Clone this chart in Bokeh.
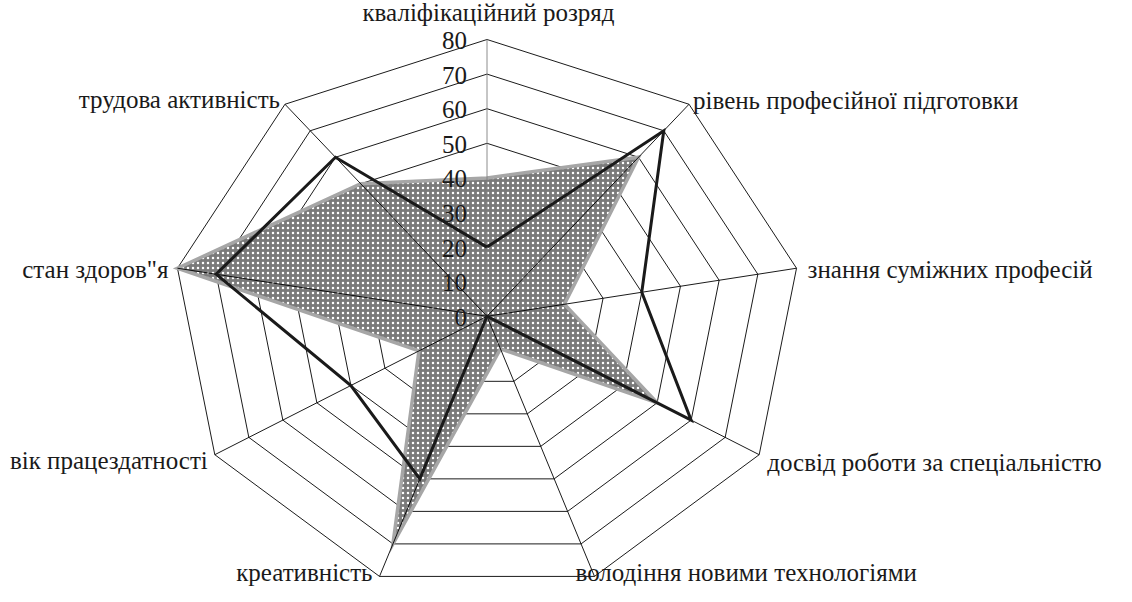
import numpy as np
from bokeh.plotting import figure
from bokeh.models import Range1d, ColumnDataSource
from bokeh.core.properties import value
from bokeh.embed import file_html
from bokeh.resources import INLINE

categories = [
    "кваліфікаційний розряд",
    "рівень професійної підготовки",
    "знання суміжних професій",
    "досвід роботи за спеціальністю",
    "володіння новими технологіями",
    "креативність",
    "вік працездатності",
    "стан здоров\"я",
    "трудова активність",
]
series_dark = [20, 70, 40, 60, 0, 50, 40, 70, 60]
series_grey = [40, 60, 20, 50, 10, 70, 20, 80, 50]
tick_values = [0, 10, 20, 30, 40, 50, 60, 70, 80]
tick_labels = ["0", "10", "20", "30", "40", "50", "60", "70", "80"]

# layout
W, H = 1116, 586
cx_px, cy_px = 486.5, 315.8       # centre in figure pixels (from top-left)
rx_px, ry_px = 314.3, 276.8       # radius of value 80 in pixels
vmax = 80.0
sx = rx_px / vmax
sy = ry_px / vmax

FS = "25px"

n = len(categories)
theta = np.deg2rad(90 - 40 * np.arange(n))
cs, sn = np.cos(theta), np.sin(theta)

p = figure(width=W, height=H, output_backend="svg", toolbar_location=None,
           x_range=Range1d(-cx_px / sx, (W - cx_px) / sx),
           y_range=Range1d(-(H - cy_px) / sy, cy_px / sy),
           min_border=0)
p.axis.visible = False
p.grid.visible = False
p.outline_line_color = None

# rings (drawn first)
ring_xs = [list(t * cs) + [t * cs[0]] for t in tick_values[1:]]
ring_ys = [list(t * sn) + [t * sn[0]] for t in tick_values[1:]]
p.multi_line(ring_xs, ring_ys, line_color="black", line_width=0.9, level="underlay")

# category labels, drawn before the filled area (they never overlap it)
lab_src = ColumnDataSource(dict(
    x=list(vmax * cs), y=list(vmax * sn), text=categories,
    dx=[1.5, 4, 11, 8, -19, -7, -7, -9, -5],
    dy=[-27, -4, 1, 8, -4, -4, 6, 1, -5],
    align=["center", "left", "left", "left", "left", "right", "right", "right", "right"],
))
p.text(x="x", y="y", text="text", source=lab_src, level="underlay",
       text_font=value("Liberation Serif"), text_font_size=FS, text_align="align",
       text_baseline="middle", x_offset="dx", y_offset="dy", text_color="#1a1a1a")

def closed(vals):
    v = np.asarray(vals, dtype=float)
    return list(v * cs) + [v[0] * cs[0]], list(v * sn) + [v[0] * sn[0]]

# grey patterned series
gx, gy = closed(series_grey)
p.patch(gx, gy, fill_color="#7a7a7a", hatch_pattern="dot", hatch_color="white",
        hatch_scale=5, hatch_weight=2, line_color="#a6a6a6", line_width=3.5,
        line_join="miter")

# spokes
spoke_src = ColumnDataSource(dict(
    xs=[[0, vmax * cs[k]] for k in range(n)],
    ys=[[0, vmax * sn[k]] for k in range(n)],
    color=["#808080"] + ["black"] * (n - 1),
))
p.multi_line("xs", "ys", line_color="color", line_width=0.9, source=spoke_src)

# dark series
bx, by = closed(series_dark)
p.line(bx, by, line_color="#1a1a1a", line_width=3, line_join="miter")

# tick labels on vertical axis (over the filled area)
p.text(x=[0] * len(tick_values), y=tick_values, text=tick_labels,
       text_font=value("Liberation Serif"), text_font_size=FS, text_align="right",
       text_baseline="middle", x_offset=-20, y_offset=1, text_color="#1a1a1a")

open("out.html", "w").write(file_html(p, INLINE))
